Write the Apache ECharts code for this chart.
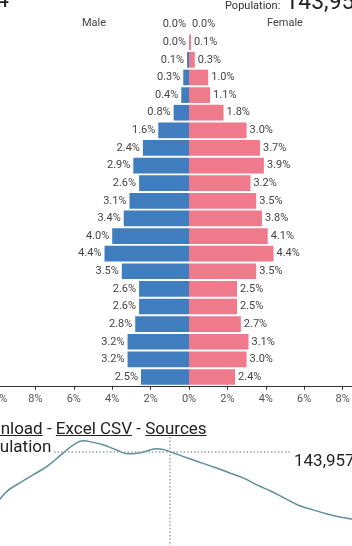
<!DOCTYPE html>
<html>
<head>
<meta charset="utf-8">
<script src="https://cdn.jsdelivr.net/npm/echarts@6/dist/echarts.min.js"></script>
<style>
  html, body { margin: 0; padding: 0; background: #fff; }
  #wrap { position: relative; width: 352px; height: 546px; overflow: hidden; font-family: Roboto, "Noto Sans", sans-serif; color: #222; }
  #chart { position: absolute; left: 0; top: 0; width: 352px; height: 546px; }
  .txt { position: absolute; white-space: nowrap; }
  .links a { color: #222; text-decoration: underline; }
</style>
</head>
<body>
<div id="wrap">
  <div id="chart"></div>
  <div class="txt" style="left:-100px;width:109px;text-align:right;top:-12px;font-size:23px;line-height:23px;">2024</div>
  <div class="txt" style="left:225px;top:-10px;font-size:23px;line-height:23px;"><span style="font-size:11px;color:#333;">Population:</span><span style="margin-left:5px;">143,957,079</span></div>
  <div class="txt links" style="left:-33px;top:420px;font-size:17px;line-height:17px;"><a>Download</a> - <a>Excel CSV</a> - <a>Sources</a></div>
  <div class="txt" style="left:-30px;top:438px;font-size:17px;line-height:17px;background:#fff;padding-right:1px;">Population</div>
  <div class="txt" style="left:291px;top:450px;padding:2px 0 0 3px;font-size:17px;line-height:17px;background:#fff;">143,957,079</div>
</div>
<script>
// 연령대 (아래 → 위)
const ages = ["0-4","5-9","10-14","15-19","20-24","25-29","30-34","35-39","40-44","45-49",
  "50-54","55-59","60-64","65-69","70-74","75-79","80-84","85-89","90-94","95-99","100+"];
const male = [2.5, 3.2, 3.2, 2.8, 2.6, 2.6, 3.5, 4.4, 4.0, 3.4, 3.1, 2.6, 2.9, 2.4, 1.6, 0.8, 0.4, 0.3, 0.1, 0.0, 0.0];
const female = [2.4, 3.0, 3.1, 2.7, 2.5, 2.5, 3.5, 4.4, 4.1, 3.8, 3.5, 3.2, 3.9, 3.7, 3.0, 1.8, 1.1, 1.0, 0.3, 0.1, 0.0];
const pctTicks = [-10, 10, 2];

// 총인구 추이 (백만)
const years = [1960, 1965, 1970, 1975, 1980, 1985, 1990, 1993, 1996, 2000, 2005, 2009, 2013, 2016, 2019, 2021, 2024,
  2030, 2035, 2040, 2045, 2050, 2055, 2060, 2065, 2070, 2075, 2080, 2085, 2090, 2095, 2100];
const population = [119, 127, 131, 134.5, 138, 142.7, 147.2, 148.5, 147.9, 146.8, 144.6, 143.1, 143.5, 144.4, 145.2, 145, 143.957,
  141.5, 139.5, 137.5, 135.4, 133.3, 130.4, 127.8, 124.9, 122.0, 120.2, 118.5, 117.2, 116.3, 115.5, 114.8];
const currentYear = 2024;
const currentPop = 143.957;

const COLORS = { male: "#3f7dbf", female: "#ef7a8b", line: "#5f8e9e", ink: "#333", guide: "#9aa5aa" };
const pct = (v) => Math.abs(v).toFixed(1) + "%";

const chart = echarts.init(document.getElementById("chart"), null, { renderer: "canvas" });
chart.setOption({
  animation: false,
  textStyle: { fontFamily: "Roboto, sans-serif" },
  graphic: [
    { type: "text", left: 82, top: 18, style: { text: "Male", fontSize: 11, fill: "#444", fontFamily: "Roboto" } },
    { type: "text", left: 267, top: 18, style: { text: "Female", fontSize: 11, fill: "#444", fontFamily: "Roboto" } }
  ],
  grid: [
    { left: -3, right: -29, top: 15.8, bottom: 160.2, outerBoundsMode: "none", containLabel: false },
    { left: -37, right: -31, top: 437, bottom: -1, outerBoundsMode: "none", containLabel: false }
  ],
  xAxis: [
    {
      gridIndex: 0, type: "value", min: pctTicks[0], max: pctTicks[1], interval: pctTicks[2],
      axisLine: { show: true, lineStyle: { color: COLORS.ink } },
      axisTick: { show: true, length: 4, lineStyle: { color: COLORS.ink } },
      axisLabel: { formatter: (v) => Math.abs(v) + "%", fontSize: 11, color: "#555", margin: 8 },
      splitLine: { show: false }
    },
    { gridIndex: 1, type: "value", min: 1950, max: 2100, show: false }
  ],
  yAxis: [
    { gridIndex: 0, type: "category", data: ages, show: false },
    { gridIndex: 1, type: "value", min: 105, max: 150, show: false }
  ],
  series: [
    {
      name: "Male", type: "bar", stack: "p", xAxisIndex: 0, yAxisIndex: 0,
      data: male.map((v) => -v), barCategoryGap: "11%",
      itemStyle: { color: COLORS.male },
      label: { show: true, position: "left", distance: 3, formatter: (p) => pct(p.value), fontSize: 11, color: "#444" }
    },
    {
      name: "Female", type: "bar", stack: "p", xAxisIndex: 0, yAxisIndex: 0,
      data: female, barCategoryGap: "11%",
      itemStyle: { color: COLORS.female },
      label: { show: true, position: "right", distance: 3, formatter: (p) => pct(p.value), fontSize: 11, color: "#444" }
    },
    {
      name: "Population", type: "line", xAxisIndex: 1, yAxisIndex: 1,
      data: years.map((y, i) => [y, population[i]]),
      smooth: true, showSymbol: false,
      lineStyle: { color: COLORS.line, width: 1.5 },
      markLine: {
        silent: true, symbol: "none", label: { show: false },
        lineStyle: { color: COLORS.guide, type: [1.5, 2], width: 1.5 },
        data: [{ xAxis: currentYear }, { yAxis: currentPop }]
      }
    }
  ]
});
</script>
</body>
</html>
